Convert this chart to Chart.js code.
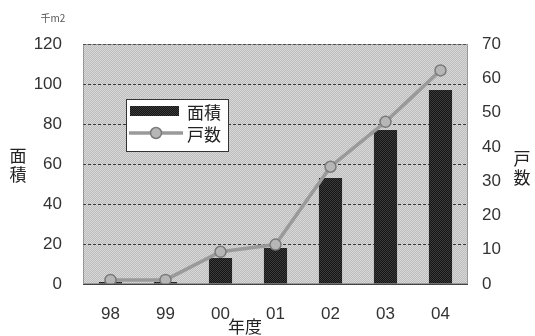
<!DOCTYPE html>
<html><head><meta charset="utf-8">
<script src="https://cdn.jsdelivr.net/npm/chart.js@4"></script>
<style>html,body{margin:0;padding:0;background:#fff}#wrap{width:535px;height:336px;position:relative}</style>
</head><body><div id="wrap"><canvas id="c" width="535" height="336"></canvas></div>
<script>
const years = ['98','99','00','01','02','03','04'];
const areaValues = [1, 1, 13, 18, 53, 77, 97];
const householdValues = [1.2, 1.2, 9.4, 11.5, 34.2, 47.3, 62.3];
const areaLabel = '面積';
const householdLabel = '戸数';
const xTitle = '年度';
const unitLabel = '千m2';

function makePattern(ctx, a, b) {
  const p = document.createElement('canvas');
  p.width = 2; p.height = 2;
  const g = p.getContext('2d');
  g.fillStyle = a; g.fillRect(0,0,2,2);
  g.fillStyle = b; g.fillRect(0,0,1,1); g.fillRect(1,1,1,1);
  return ctx.createPattern(p, 'repeat');
}
const canvas = document.getElementById('c');
const ctx = canvas.getContext('2d');
const bgPattern = makePattern(ctx, '#bcbcbc', '#d9d9d9');
const barPattern = makePattern(ctx, '#151515', '#3c3c3c');

const NUM_FONT = '"Liberation Sans", Arial, sans-serif';
const CJK_FONT = '"Noto Sans CJK JP", sans-serif';

const decor = {
  id: 'decor',
  beforeDraw(chart) {
    const {ctx, chartArea: a} = chart;
    ctx.save();
    ctx.fillStyle = bgPattern;
    ctx.fillRect(a.left, a.top, a.right - a.left, a.bottom - a.top);
    ctx.restore();
  },
  afterDatasetsDraw(chart) {
    const {ctx, chartArea: a} = chart;
    const barDs = chart.data.datasets.find(d => d.type === 'bar');
    const lineDs = chart.data.datasets.find(d => d.type === 'line');
    ctx.save();
    // plot border
    ctx.strokeStyle = '#666';
    ctx.lineWidth = 1;
    ctx.setLineDash([1,1]);
    ctx.strokeRect(a.left + 0.5, a.top + 0.5, a.right - a.left - 1, a.bottom - a.top - 1);
    ctx.setLineDash([]);
    ctx.strokeStyle = '#444';
    ctx.beginPath(); ctx.moveTo(a.left, a.bottom + 0.5); ctx.lineTo(a.right, a.bottom + 0.5); ctx.stroke();

    // legend
    const lx = 126, ly = 99, lw = 102, lh = 52;
    ctx.fillStyle = '#fff';
    ctx.fillRect(lx, ly, lw, lh);
    ctx.strokeStyle = '#333';
    ctx.lineWidth = 1;
    ctx.strokeRect(lx + 0.5, ly + 0.5, lw, lh);
    ctx.fillStyle = barPattern;
    ctx.fillRect(130, 106, 49, 10);
    ctx.strokeStyle = '#9a9a9a';
    ctx.lineWidth = 3.5;
    ctx.beginPath(); ctx.moveTo(129, 133); ctx.lineTo(183, 133); ctx.stroke();
    ctx.beginPath(); ctx.arc(156, 133, 5.5, 0, Math.PI * 2);
    ctx.fillStyle = '#b6b6b6'; ctx.fill();
    ctx.strokeStyle = '#7a7a7a'; ctx.lineWidth = 1.5; ctx.stroke();
    ctx.fillStyle = '#222';
    ctx.font = '17px ' + CJK_FONT;
    ctx.textAlign = 'left';
    ctx.textBaseline = 'middle';
    ctx.fillText(barDs.label, 187, 113);
    ctx.fillText(lineDs.label, 187, 135);

    // axis titles
    ctx.textAlign = 'center';
    ctx.fillStyle = '#222';
    const lt = barDs.label;
    ctx.fillText(lt[0], 18, 156);
    ctx.fillText(lt[1], 18, 175);
    const rt = lineDs.label;
    ctx.fillText(rt[0], 522, 159);
    ctx.fillText(rt[1], 522, 178);
    ctx.fillText(xTitle, 245, 327);
    ctx.fillStyle = '#555';
    ctx.font = '10px ' + CJK_FONT;
    ctx.fillText(unitLabel, 53, 18);
    ctx.restore();
  }
};

new Chart(canvas, {
  data: {
    labels: years,
    datasets: [
      {
        type: 'line', label: householdLabel, data: householdValues, yAxisID: 'y2',
        borderColor: '#9a9a9a', borderWidth: 3.5, backgroundColor: '#b6b6b6',
        pointRadius: 5.5, pointBorderColor: '#7a7a7a', pointBorderWidth: 1.5,
        pointBackgroundColor: '#b6b6b6', tension: 0, order: 0
      },
      {
        type: 'bar', label: areaLabel, data: areaValues, yAxisID: 'y',
        backgroundColor: barPattern, categoryPercentage: 1, barPercentage: 0.42, order: 1
      }
    ]
  },
  options: {
    responsive: false, animation: false, devicePixelRatio: 1,
    layout: { padding: { top: 44, left: 0, right: 0, bottom: 0 } },
    plugins: { legend: { display: false }, tooltip: { enabled: false } },
    scales: {
      x: {
        offset: true,
        grid: { display: false, drawTicks: false },
        border: { display: false },
        ticks: { color: '#333', font: { family: NUM_FONT, size: 17 }, padding: 20 },
        afterFit(s) { s.height = 52; }
      },
      y: {
        position: 'left', min: 0, max: 120,
        grid: { color: '#3a3a3a', drawTicks: false, lineWidth: 1 },
        border: { display: false, dash: [3,2] },
        ticks: { stepSize: 20, color: '#333', font: { family: NUM_FONT, size: 17 }, padding: 21 },
        afterFit(s) { s.width = 83; }
      },
      y2: {
        position: 'right', min: 0, max: 70,
        grid: { display: false, drawTicks: false },
        border: { display: false },
        ticks: { stepSize: 10, color: '#333', font: { family: NUM_FONT, size: 17 }, padding: 14 },
        afterFit(s) { s.width = 67; }
      }
    }
  },
  plugins: [decor]
});
</script>
</body></html>
